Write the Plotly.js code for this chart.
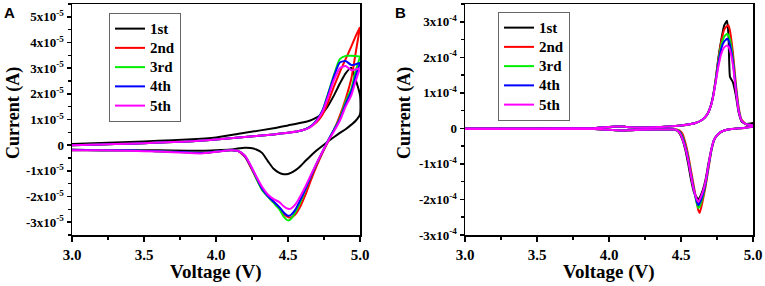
<!DOCTYPE html>
<html>
<head>
<meta charset="utf-8">
<script src="https://cdn.plot.ly/plotly-3.0.1.min.js"></script>
<style>html,body{margin:0;padding:0;background:#fff;}#chart{width:765px;height:286px;}</style>
</head>
<body>
<div id="chart"></div>
<script>
const cycleNames = ['1st', '2nd', '3rd', '4th', '5th'];
const cycleColors = ['#000000', '#ff0000', '#00ee00', '#0000ff', '#ff00ff'];

// ---- Panel A (current in units of 1e-5 A) ----
const vA_anodic = [3.0, 3.2, 3.4, 3.6, 3.8, 4.0, 4.2, 4.4, 4.5, 4.6, 4.65, 4.7, 4.74, 4.78, 4.82, 4.86, 4.9, 4.94, 4.97, 5.0];
const vA_cathodic = [5.0, 4.97, 4.94, 4.9, 4.86, 4.82, 4.78, 4.74, 4.7, 4.66, 4.62, 4.58, 4.55, 4.52, 4.5, 4.47, 4.44, 4.4, 4.36, 4.32, 4.28, 4.24, 4.2, 4.15, 4.1, 4.0, 3.9, 3.8, 3.6, 3.4, 3.2, 3.0];

const iA1_an = [0.05, 0.08, 0.12, 0.17, 0.22, 0.3, 0.48, 0.66, 0.77, 0.88, 0.95, 1.08, 1.25, 1.55, 1.95, 2.4, 2.8, 3.02, 2.55, 1.95];
const iA1_ca = [1.2, 0.95, 0.8, 0.62, 0.48, 0.32, 0.15, -0.02, -0.2, -0.4, -0.62, -0.85, -0.98, -1.08, -1.12, -1.13, -1.08, -0.92, -0.62, -0.3, -0.17, -0.11, -0.1, -0.13, -0.17, -0.2, -0.22, -0.22, -0.2, -0.2, -0.2, -0.2];
const iA2_an = [0.0, 0.03, 0.06, 0.1, 0.14, 0.22, 0.32, 0.42, 0.48, 0.58, 0.7, 0.9, 1.2, 1.7, 2.3, 2.85, 3.35, 3.85, 4.25, 4.6];
const iA2_ca = [4.6, 3.6, 2.6, 1.8, 1.15, 0.6, 0.15, -0.3, -0.8, -1.35, -1.95, -2.45, -2.7, -2.82, -2.8, -2.68, -2.45, -2.2, -1.98, -1.72, -1.3, -0.85, -0.45, -0.22, -0.2, -0.25, -0.3, -0.28, -0.24, -0.2, -0.2, -0.18];
const iA3_an = [0.0, 0.03, 0.06, 0.1, 0.14, 0.22, 0.32, 0.42, 0.48, 0.58, 0.7, 0.98, 1.35, 2.05, 2.75, 3.35, 3.48, 3.48, 3.47, 3.46];
const iA3_ca = [3.44, 2.9, 2.2, 1.7, 1.05, 0.62, 0.2, -0.25, -0.7, -1.2, -1.75, -2.3, -2.62, -2.88, -2.93, -2.78, -2.5, -2.25, -2.0, -1.75, -1.3, -0.8, -0.4, -0.22, -0.2, -0.25, -0.3, -0.28, -0.24, -0.2, -0.2, -0.18];
const iA4_an = [0.0, 0.03, 0.06, 0.1, 0.14, 0.22, 0.32, 0.42, 0.48, 0.58, 0.7, 0.98, 1.35, 2.0, 2.7, 3.22, 3.28, 3.12, 3.15, 3.2];
const iA4_ca = [3.2, 2.7, 2.1, 1.6, 1.0, 0.6, 0.2, -0.25, -0.7, -1.2, -1.72, -2.2, -2.52, -2.72, -2.75, -2.62, -2.42, -2.2, -1.98, -1.7, -1.25, -0.8, -0.42, -0.22, -0.2, -0.25, -0.3, -0.28, -0.24, -0.2, -0.2, -0.18];
const iA5_an = [0.0, 0.03, 0.06, 0.1, 0.14, 0.22, 0.32, 0.42, 0.48, 0.58, 0.68, 0.95, 1.3, 1.9, 2.55, 3.0, 3.08, 2.92, 2.95, 3.0];
const iA5_ca = [3.0, 2.5, 1.95, 1.5, 0.95, 0.55, 0.18, -0.25, -0.68, -1.15, -1.62, -2.05, -2.32, -2.47, -2.48, -2.38, -2.22, -2.1, -1.92, -1.62, -1.22, -0.78, -0.4, -0.22, -0.2, -0.26, -0.32, -0.3, -0.25, -0.22, -0.2, -0.2];

// ---- Panel B (current in units of 1e-4 A) ----
const vB_anodic = [3.0, 3.5, 3.9, 4.0, 4.05, 4.1, 4.15, 4.3, 4.5, 4.6, 4.65, 4.68, 4.7, 4.72, 4.74, 4.76, 4.78, 4.8, 4.82, 4.83, 4.84, 4.86, 4.88, 4.9, 4.92, 4.95, 5.0];
const vB_cathodic = [5.0, 4.95, 4.9, 4.85, 4.8, 4.77, 4.75, 4.73, 4.71, 4.69, 4.67, 4.65, 4.63, 4.62, 4.61, 4.59, 4.57, 4.55, 4.53, 4.51, 4.49, 4.47, 4.45, 4.4, 4.3, 4.15, 4.1, 4.05, 4.0, 3.9, 3.5, 3.0];

const iB1_an = [0.0, 0.0, 0.01, 0.04, 0.05, 0.05, 0.03, 0.03, 0.08, 0.15, 0.25, 0.38, 0.55, 0.85, 1.35, 2.0, 2.5, 2.9, 3.03, 2.6, 1.45, 1.3, 0.95, 0.45, 0.2, 0.12, 0.15];
const iB1_ca = [0.15, 0.03, 0.0, -0.02, -0.06, -0.12, -0.2, -0.32, -0.6, -1.0, -1.45, -1.75, -1.95, -2.0, -1.95, -1.8, -1.45, -1.0, -0.6, -0.32, -0.14, -0.06, -0.03, -0.03, -0.03, -0.05, -0.06, -0.05, -0.04, -0.02, -0.02, -0.02];
const iB2_an = [0.0, 0.0, 0.01, 0.04, 0.05, 0.05, 0.03, 0.03, 0.08, 0.15, 0.25, 0.38, 0.55, 0.85, 1.35, 1.95, 2.45, 2.78, 2.88, 2.9, 2.75, 2.15, 1.3, 0.6, 0.25, 0.12, 0.08];
const iB2_ca = [0.05, 0.02, 0.0, -0.02, -0.06, -0.12, -0.2, -0.33, -0.65, -1.15, -1.65, -2.05, -2.38, -2.3, -2.1, -1.65, -1.2, -0.75, -0.4, -0.15, -0.06, -0.03, -0.03, -0.03, -0.03, -0.05, -0.06, -0.05, -0.04, -0.02, -0.02, -0.02];
const iB3_an = [0.0, 0.0, 0.01, 0.04, 0.05, 0.05, 0.03, 0.03, 0.08, 0.15, 0.25, 0.38, 0.55, 0.85, 1.32, 1.9, 2.35, 2.58, 2.66, 2.62, 2.5, 2.0, 1.2, 0.55, 0.23, 0.12, 0.08];
const iB3_ca = [0.05, 0.02, 0.0, -0.02, -0.06, -0.12, -0.2, -0.33, -0.63, -1.1, -1.58, -1.95, -2.2, -2.24, -2.12, -1.72, -1.3, -0.82, -0.48, -0.22, -0.09, -0.04, -0.03, -0.03, -0.03, -0.05, -0.06, -0.05, -0.04, -0.02, -0.02, -0.02];
const iB4_an = [0.0, 0.0, 0.01, 0.04, 0.05, 0.05, 0.03, 0.03, 0.08, 0.15, 0.25, 0.38, 0.55, 0.85, 1.3, 1.85, 2.25, 2.45, 2.52, 2.48, 2.35, 1.9, 1.15, 0.52, 0.22, 0.12, 0.08];
const iB4_ca = [0.05, 0.02, 0.0, -0.02, -0.06, -0.12, -0.2, -0.32, -0.62, -1.08, -1.55, -1.88, -2.1, -2.16, -2.06, -1.74, -1.32, -0.86, -0.52, -0.26, -0.1, -0.05, -0.03, -0.03, -0.03, -0.05, -0.06, -0.05, -0.04, -0.02, -0.02, -0.02];
const iB5_an = [0.0, 0.0, 0.01, 0.04, 0.05, 0.05, 0.03, 0.03, 0.08, 0.15, 0.25, 0.38, 0.55, 0.82, 1.28, 1.75, 2.1, 2.28, 2.33, 2.3, 2.2, 1.8, 1.1, 0.5, 0.22, 0.12, 0.08];
const iB5_ca = [0.05, 0.02, 0.0, -0.02, -0.06, -0.12, -0.2, -0.32, -0.6, -1.05, -1.5, -1.8, -2.0, -2.07, -2.0, -1.75, -1.35, -0.9, -0.55, -0.3, -0.12, -0.05, -0.03, -0.03, -0.03, -0.05, -0.06, -0.05, -0.04, -0.02, -0.02, -0.02];

// ---- Axis tick labels ----
const xTickVals = [3.0, 3.5, 4.0, 4.5, 5.0];
const xTickText = ['<b>3.0</b>', '<b>3.5</b>', '<b>4.0</b>', '<b>4.5</b>', '<b>5.0</b>'];
const yA_TickVals = [-3, -2, -1, 0, 1, 2, 3, 4, 5];
const yA_TickText = ['<b>-3x10<sup>-5</sup></b>', '<b>-2x10<sup>-5</sup></b>', '<b>-1x10<sup>-5</sup></b>', '<b>0</b>', '<b>1x10<sup>-5</sup></b>', '<b>2x10<sup>-5</sup></b>', '<b>3x10<sup>-5</sup></b>', '<b>4x10<sup>-5</sup></b>', '<b>5x10<sup>-5</sup></b>'];
const yB_TickVals = [-3, -2, -1, 0, 1, 2, 3];
const yB_TickText = ['<b>-3x10<sup>-4</sup></b>', '<b>-2x10<sup>-4</sup></b>', '<b>-1x10<sup>-4</sup></b>', '<b>0</b>', '<b>1x10<sup>-4</sup></b>', '<b>2x10<sup>-4</sup></b>', '<b>3x10<sup>-4</sup></b>'];

const A_an = [iA1_an, iA2_an, iA3_an, iA4_an, iA5_an];
const A_ca = [iA1_ca, iA2_ca, iA3_ca, iA4_ca, iA5_ca];
const B_an = [iB1_an, iB2_an, iB3_an, iB4_an, iB5_an];
const B_ca = [iB1_ca, iB2_ca, iB3_ca, iB4_ca, iB5_ca];

function legendName(s) { return '<span style="font-size:15px"><b>' + s + '</b></span>'; }

const traces = [];
for (let k = 0; k < 5; k++) {
  traces.push({
    type: 'scatter', mode: 'lines', name: legendName(cycleNames[k]),
    x: vA_anodic.concat(vA_cathodic), y: A_an[k].concat(A_ca[k]),
    xaxis: 'x', yaxis: 'y', legend: 'legend',
    line: {color: cycleColors[k], width: 2, shape: 'spline', smoothing: 0.6}
  });
}
for (let k = 0; k < 5; k++) {
  traces.push({
    type: 'scatter', mode: 'lines', name: legendName(cycleNames[k]),
    x: vB_anodic.concat(vB_cathodic), y: B_an[k].concat(B_ca[k]),
    xaxis: 'x2', yaxis: 'y2', legend: 'legend2',
    line: {color: cycleColors[k], width: 2, shape: 'spline', smoothing: 0.4}
  });
}

const serif = '"Times New Roman", "Liberation Serif", Times, serif';
function xAxis(dom, anchor) {
  return {
    domain: dom, anchor: anchor, range: [3, 5],
    tickmode: 'array', tickvals: xTickVals, ticktext: xTickText,
    ticks: 'outside', ticklen: 5, tickwidth: 1.5, tickcolor: '#000',
    minor: {tickmode: 'linear', tick0: 3, dtick: 0.25, ticks: 'outside', ticklen: 3, tickwidth: 1.5, tickcolor: '#000', showgrid: false},
    showline: true, linecolor: '#000', linewidth: 1.5, mirror: true,
    showgrid: false, zeroline: false,
    tickfont: {family: serif, size: 15, color: '#000'}
  };
}
function yAxis(dom, anchor, rng, vals, text) {
  return {
    domain: dom, anchor: anchor, range: rng,
    tickmode: 'array', tickvals: vals, ticktext: text,
    ticks: 'outside', ticklen: 4, tickwidth: 1.5, tickcolor: '#000',
    minor: {tickmode: 'linear', tick0: 0, dtick: 0.5, ticks: 'outside', ticklen: 3, tickwidth: 1.5, tickcolor: '#000', showgrid: false},
    showline: true, linecolor: '#000', linewidth: 1.5, mirror: true,
    showgrid: false, zeroline: false,
    tickfont: {family: serif, size: 13, color: '#000'}
  };
}
const yDom = [51 / 286, 282 / 286];
const legendStyle = {
  xanchor: 'left', yanchor: 'top', bgcolor: '#fff', bordercolor: '#666', borderwidth: 1,
  font: {family: serif, size: 12.5, color: '#000'}, tracegroupgap: 0
};
const titleFont = {family: serif, size: 18, color: '#000'};
const titleFontX = {family: serif, size: 19, color: '#000'};
const layout = {
  width: 765, height: 286,
  margin: {l: 0, r: 0, t: 0, b: 0, pad: 0},
  paper_bgcolor: '#fff', plot_bgcolor: '#fff',
  showlegend: true,
  xaxis: xAxis([72 / 765, 360 / 765], 'y'),
  yaxis: yAxis(yDom, 'x', [-3.5, 5.5], yA_TickVals, yA_TickText),
  xaxis2: xAxis([465 / 765, 753 / 765], 'y2'),
  yaxis2: yAxis(yDom, 'x2', [-3, 3.5], yB_TickVals, yB_TickText),
  legend: Object.assign({x: 109 / 765, y: 1 - 13 / 286}, legendStyle),
  legend2: Object.assign({x: 498 / 765, y: 1 - 12 / 286}, legendStyle),
  annotations: [
    {text: '<b>A</b>', xref: 'paper', yref: 'paper', x: 9 / 765, y: 1 - 13 / 286, showarrow: false, xanchor: 'center', yanchor: 'middle', font: {family: 'Arial, "Liberation Sans", sans-serif', size: 15, color: '#000'}},
    {text: '<b>B</b>', xref: 'paper', yref: 'paper', x: 400 / 765, y: 1 - 13 / 286, showarrow: false, xanchor: 'center', yanchor: 'middle', font: {family: 'Arial, "Liberation Sans", sans-serif', size: 15, color: '#000'}},
    {text: '<b>Current (A)</b>', xref: 'paper', yref: 'paper', x: 13 / 765, y: 1 - 113 / 286, textangle: -90, showarrow: false, xanchor: 'center', yanchor: 'middle', font: titleFont},
    {text: '<b>Current (A)</b>', xref: 'paper', yref: 'paper', x: 404 / 765, y: 1 - 113 / 286, textangle: -90, showarrow: false, xanchor: 'center', yanchor: 'middle', font: titleFont},
    {text: '<b>Voltage (V)</b>', xref: 'paper', yref: 'paper', x: 216 / 765, y: 1 - 272 / 286, showarrow: false, xanchor: 'center', yanchor: 'middle', font: titleFontX},
    {text: '<b>Voltage (V)</b>', xref: 'paper', yref: 'paper', x: 609 / 765, y: 1 - 272 / 286, showarrow: false, xanchor: 'center', yanchor: 'middle', font: titleFontX}
  ]
};
Plotly.newPlot('chart', traces, layout, {displayModeBar: false, staticPlot: true});
</script>
</body>
</html>
